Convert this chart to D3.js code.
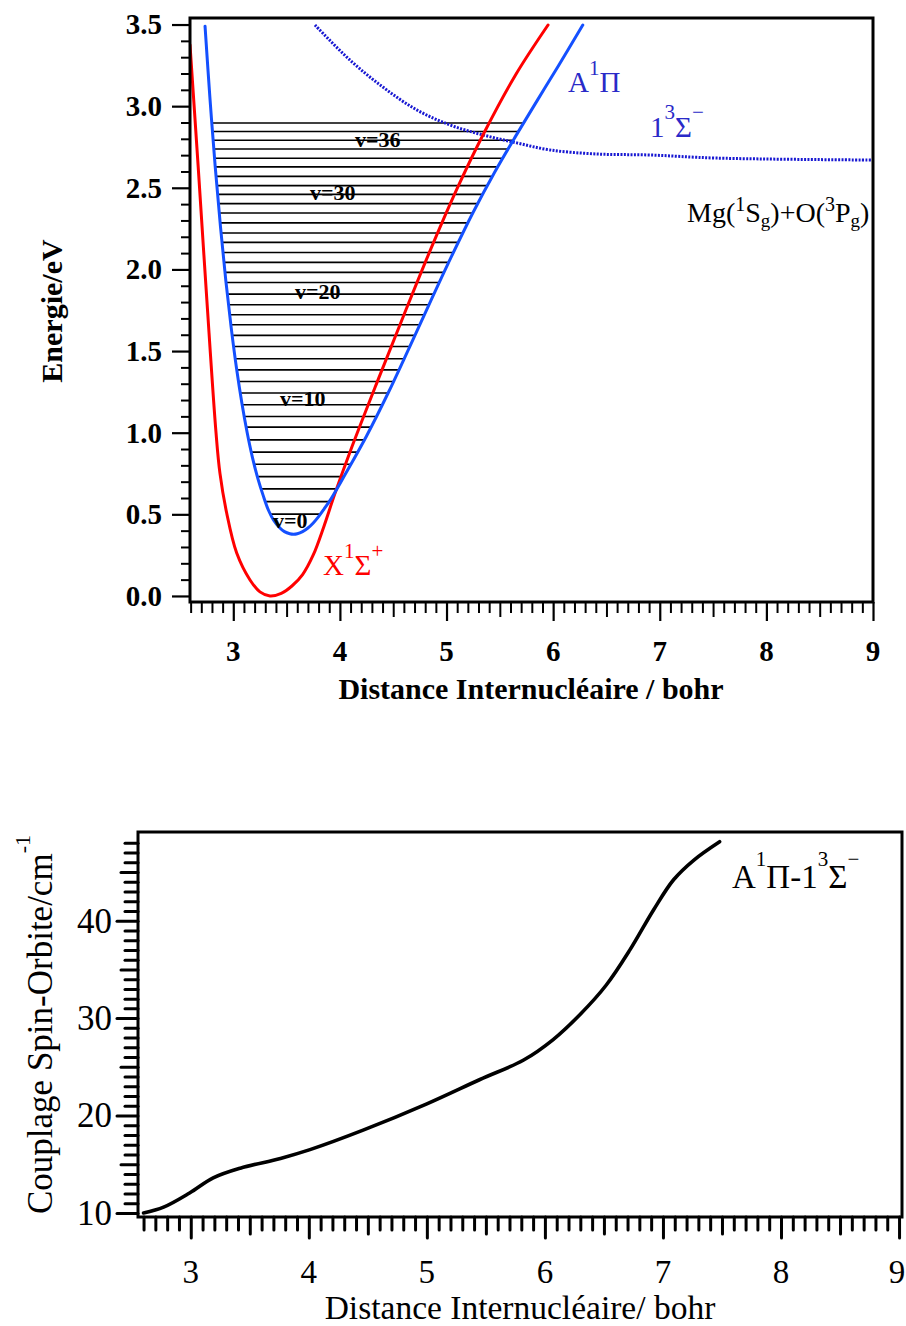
<!DOCTYPE html>
<html>
<head>
<meta charset="utf-8">
<script src="https://cdn.jsdelivr.net/npm/d3@7"></script>
<style>
  body { margin: 0; background: #fff; }
  svg { display: block; }
  text { font-family: "Liberation Serif", "Times New Roman", Times, serif; }
</style>
</head>
<body>
<svg id="chart" width="906" height="1326"></svg>
<script>
// ================= DATA =================
// X1Sigma+ potential (red): R in bohr, E in eV
const xStateR = [2.594, 2.671, 2.752, 2.838, 2.875, 2.938, 3.032, 3.157, 3.250, 3.344, 3.450, 3.550, 3.650, 3.750, 3.850, 3.950, 4.100, 4.350, 4.600, 4.850, 5.100, 5.350, 5.650, 5.952];
const xStateE = [3.375, 2.627, 1.813, 1.000, 0.751, 0.508, 0.263, 0.098, 0.025, 0.000, 0.016, 0.061, 0.131, 0.251, 0.426, 0.621, 0.891, 1.311, 1.721, 2.121, 2.496, 2.834, 3.194, 3.497];

// A1Pi potential (blue)
const aStateR = [2.735, 2.780, 2.830, 2.880, 2.930, 2.980, 3.030, 3.080, 3.130, 3.180, 3.230, 3.280, 3.330, 3.380, 3.430, 3.480, 3.530, 3.566,
                 3.600, 3.650, 3.700, 3.750, 3.800, 3.850, 3.920, 4.050, 4.250, 4.450, 4.650, 4.850, 5.050, 5.250, 5.450, 5.650, 5.850, 6.050, 6.278];
const aStateE = [3.490, 3.059, 2.633, 2.260, 1.931, 1.645, 1.396, 1.183, 1.001, 0.847, 0.720, 0.616, 0.525, 0.462, 0.421, 0.394, 0.381, 0.378,
                 0.381, 0.394, 0.416, 0.447, 0.486, 0.531, 0.598, 0.745, 0.980, 1.240, 1.520, 1.804, 2.084, 2.350, 2.594, 2.818, 3.034, 3.248, 3.497];

// 1 3Sigma- potential (blue dotted)
const sStateR = [3.766, 4.093, 4.403, 4.721, 5.031, 5.340, 5.659, 5.968, 6.409, 6.906, 7.534, 9.000];
const sStateE = [3.497, 3.283, 3.117, 2.977, 2.885, 2.824, 2.775, 2.732, 2.707, 2.701, 2.682, 2.670];

// vibrational levels of A1Pi (eV)
const levelE = [0.501, 0.578, 0.656, 0.731, 0.807, 0.881, 0.956, 1.034, 1.099, 1.171,
                1.243, 1.314, 1.385, 1.453, 1.528, 1.596, 1.661, 1.722, 1.784, 1.849,
                1.920, 1.982, 2.043, 2.104, 2.166, 2.223, 2.285, 2.346, 2.403, 2.460,
                2.513, 2.570, 2.628, 2.681, 2.738, 2.791, 2.845, 2.897];
const levelLabelText = ["v=0", "v=10", "v=20", "v=30", "v=36"];
const levelLabelR = [3.373, 3.438, 3.579, 3.720, 4.142];
const levelLabelE = [0.414, 1.163, 1.819, 2.425, 2.752];

const topXTicks = [3, 4, 5, 6, 7, 8, 9];
const topYTicks = [0.0, 0.5, 1.0, 1.5, 2.0, 2.5, 3.0, 3.5];

// spin-orbit coupling A1Pi - 1 3Sigma- (cm-1)
const socR = [2.60, 2.77, 2.99, 3.19, 3.42, 3.76, 4.01, 4.46, 5.00, 5.45, 5.82, 6.07, 6.30, 6.52, 6.72, 6.92, 7.09, 7.26, 7.48];
const socV = [10.0, 10.6, 12.05, 13.6, 14.6, 15.6, 16.5, 18.5, 21.2, 23.7, 25.7, 27.8, 30.4, 33.4, 37.0, 41.1, 44.2, 46.2, 48.1];

const botXTicks = [3, 4, 5, 6, 7, 8, 9];
const botYTicks = [10, 20, 30, 40];

// ================= DRAW =================
const svg = d3.select("#chart");
const smooth = d3.curveCatmullRom.alpha(0.5);

function rich(g, x, y, parts, size, o) {
  const t = g.append("text").attr("x", x).attr("y", y).attr("font-size", size);
  let cur = 0;
  parts.forEach(p => {
    const txt = Array.isArray(p) ? p[0] : p;
    const kind = Array.isArray(p) ? p[1] : null;
    let off = 0, fs = size;
    if (kind === "sup") { off = -o.supRaise; fs = o.supSize; }
    if (kind === "sub") { off = o.subDrop; fs = o.subSize; }
    t.append("tspan").attr("dy", off - cur).attr("font-size", fs).text(txt);
    cur = off;
  });
  return t;
}

function cross(Rs, Es, e, left) {
  const iMin = d3.minIndex(Es);
  if (left) {
    for (let i = iMin; i > 0; i--) {
      if (Es[i - 1] >= e && Es[i] <= e) {
        const t = (e - Es[i]) / (Es[i - 1] - Es[i]);
        return Rs[i] + t * (Rs[i - 1] - Rs[i]);
      }
    }
  } else {
    for (let i = iMin; i < Es.length - 1; i++) {
      if (Es[i] <= e && Es[i + 1] >= e) {
        const t = (e - Es[i]) / (Es[i + 1] - Es[i]);
        return Rs[i] + t * (Rs[i + 1] - Rs[i]);
      }
    }
  }
  return null;
}

function tickAxis(g, axis, width, cap) {
  g.call(axis);
  g.select(".domain").remove();
  g.selectAll(".tick line").attr("stroke", "#000").attr("stroke-width", width).attr("stroke-linecap", cap || "butt");
  g.selectAll(".tick text").remove();
}

// ---------- TOP CHART ----------
const xT = d3.scaleLinear().domain([2.594, 9.0]).range([190, 873]);
const yT = d3.scaleLinear().domain([-0.037, 3.54]).range([602, 18]);
const gTop = svg.append("g");

gTop.append("clipPath").attr("id", "clipTop").append("rect")
  .attr("x", xT.range()[0]).attr("y", yT.range()[1])
  .attr("width", xT.range()[1] - xT.range()[0]).attr("height", yT.range()[0] - yT.range()[1]);

// x ticks
const topMinorX = d3.range(26, 91).map(d => d / 10).filter(d => Math.abs(d * 2 - Math.round(d * 2)) > 1e-6);
const topMidX = d3.range(5, 18).map(d => d / 2).filter(d => d > 2.6 && d % 1 !== 0);
tickAxis(gTop.append("g").attr("transform", "translate(0,602)"),
  d3.axisBottom(xT).tickValues(topMinorX).tickSize(11).tickSizeOuter(0), 2);
tickAxis(gTop.append("g").attr("transform", "translate(0,602)"),
  d3.axisBottom(xT).tickValues(topMidX).tickSize(15).tickSizeOuter(0), 2);
tickAxis(gTop.append("g").attr("transform", "translate(0,602)"),
  d3.axisBottom(xT).tickValues(topXTicks).tickSize(19).tickSizeOuter(0), 2.2);
// y ticks
const topMinorY = d3.range(0, 36).map(d => d / 10).filter(d => Math.abs(d * 2 - Math.round(d * 2)) > 1e-6);
tickAxis(gTop.append("g").attr("transform", "translate(190,0)"),
  d3.axisLeft(yT).tickValues(topMinorY).tickSize(9).tickSizeOuter(0), 2);
tickAxis(gTop.append("g").attr("transform", "translate(190,0)"),
  d3.axisLeft(yT).tickValues(topYTicks).tickSize(18).tickSizeOuter(0), 2.2);

// tick labels
gTop.append("g").selectAll("text").data(topXTicks).join("text")
  .attr("x", d => xT(d)).attr("y", 661).attr("text-anchor", "middle")
  .attr("font-size", 29).attr("font-weight", "bold").text(d => d3.format("d")(d));
gTop.append("g").selectAll("text").data(topYTicks).join("text")
  .attr("x", 162).attr("y", d => yT(d)).attr("dy", "0.34em").attr("text-anchor", "end")
  .attr("font-size", 29).attr("font-weight", "bold").text(d => d3.format(".1f")(d));

// axis titles
gTop.append("text").attr("x", 531).attr("y", 699).attr("text-anchor", "middle")
  .attr("font-size", 30).attr("font-weight", "bold").text("Distance Internucléaire / bohr");
gTop.append("text").attr("transform", "translate(62,311) rotate(-90)").attr("text-anchor", "middle")
  .attr("font-size", 30).attr("font-weight", "bold").text("Energie/eV");

// plot contents
const plotT = gTop.append("g").attr("clip-path", "url(#clipTop)");

// vibrational levels
plotT.append("g").selectAll("line").data(levelE).join("line")
  .attr("x1", e => xT(cross(aStateR, aStateE, e, true)))
  .attr("x2", e => xT(cross(aStateR, aStateE, e, false)))
  .attr("y1", e => yT(e)).attr("y2", e => yT(e))
  .attr("stroke", "#000").attr("stroke-width", 1.6);

const lineT = (Rs, Es) => d3.line().x((d, i) => xT(Rs[i])).y((d, i) => yT(Es[i])).curve(smooth)(Rs);

plotT.append("path").attr("d", lineT(sStateR, sStateE)).attr("fill", "none")
  .attr("stroke", "#1818d2").attr("stroke-width", 3).attr("stroke-dasharray", "2,1.4");
plotT.append("path").attr("d", lineT(xStateR, xStateE)).attr("fill", "none")
  .attr("stroke", "#ff0000").attr("stroke-width", 3).attr("stroke-linecap", "round");
plotT.append("path").attr("d", lineT(aStateR, aStateE)).attr("fill", "none")
  .attr("stroke", "#1450ff").attr("stroke-width", 3).attr("stroke-linecap", "round");

// level labels
gTop.append("g").selectAll("text").data(levelLabelText).join("text")
  .attr("x", (d, i) => xT(levelLabelR[i])).attr("y", (d, i) => yT(levelLabelE[i]))
  .attr("font-size", 22).attr("font-weight", "bold").attr("fill", "#000").text(d => d);

// state annotations
const annBlue = "#2a2ac8";
rich(gTop, xT(6.14), yT(3.087), ["A", ["1", "sup"], "Π"], 29, { supRaise: 17, supSize: 21 }).attr("fill", annBlue);
rich(gTop, xT(6.909), yT(2.811), ["1", ["3", "sup"], "Σ", ["−", "sup"]], 29, { supRaise: 18, supSize: 21 }).attr("fill", annBlue);
rich(gTop, xT(3.842), yT(0.128), ["X", ["1", "sup"], "Σ", ["+", "sup"]], 29, { supRaise: 17, supSize: 21 }).attr("fill", "#ff0000");
rich(gTop, xT(7.256), yT(2.29), ["Mg(", ["1", "sup"], "S", ["g", "sub"], ")+O(", ["3", "sup"], "P", ["g", "sub"], ")"], 28,
  { supRaise: 11, supSize: 20, subDrop: 5, subSize: 19 }).attr("fill", "#000");

// frame
gTop.append("rect").attr("x", 190).attr("y", 18).attr("width", 683).attr("height", 584)
  .attr("fill", "none").attr("stroke", "#000").attr("stroke-width", 3);

// ---------- BOTTOM CHART ----------
const xB = d3.scaleLinear().domain([2.553, 9.025]).range([138, 902]);
const yB = d3.scaleLinear().domain([9.59, 49.1]).range([1217, 832]);
const gBot = svg.append("g");

const botMinorX = d3.range(26, 91).map(d => d / 10).filter(d => Math.abs(d * 2 - Math.round(d * 2)) > 1e-6);
const botMidX = d3.range(5, 18).map(d => d / 2).filter(d => d > 2.6 && d % 1 !== 0);
tickAxis(gBot.append("g").attr("transform", "translate(0,1217)"),
  d3.axisBottom(xB).tickValues(botMinorX).tickSize(13).tickSizeOuter(0), 3, "round");
tickAxis(gBot.append("g").attr("transform", "translate(0,1217)"),
  d3.axisBottom(xB).tickValues(botMidX).tickSize(17).tickSizeOuter(0), 3, "round");
tickAxis(gBot.append("g").attr("transform", "translate(0,1217)"),
  d3.axisBottom(xB).tickValues(botXTicks).tickSize(21).tickSizeOuter(0), 3, "round");

const botMinorY = d3.range(10, 49).filter(d => d % 5 !== 0);
const botMidY = [15, 25, 35, 45];
tickAxis(gBot.append("g").attr("transform", "translate(138,0)"),
  d3.axisLeft(yB).tickValues(botMinorY).tickSize(13).tickSizeOuter(0), 3, "round");
tickAxis(gBot.append("g").attr("transform", "translate(138,0)"),
  d3.axisLeft(yB).tickValues(botMidY).tickSize(17).tickSizeOuter(0), 3, "round");
tickAxis(gBot.append("g").attr("transform", "translate(138,0)"),
  d3.axisLeft(yB).tickValues(botYTicks).tickSize(21).tickSizeOuter(0), 3, "round");

gBot.append("g").selectAll("text").data(botXTicks).join("text")
  .attr("x", d => Math.min(xB(d), 897)).attr("y", 1283).attr("text-anchor", "middle")
  .attr("font-size", 33).text(d => d3.format("d")(d));
gBot.append("g").selectAll("text").data(botYTicks).join("text")
  .attr("x", 112).attr("y", d => yB(d)).attr("dy", "0.34em").attr("text-anchor", "end")
  .attr("font-size", 35).text(d => d3.format("d")(d));

gBot.append("text").attr("x", 520).attr("y", 1319.3).attr("text-anchor", "middle")
  .attr("font-size", 33.5).text("Distance Internucléaire/ bohr");
rich(gBot, 0, 0, ["Couplage Spin-Orbite/cm", ["-1", "sup"]], 35, { supRaise: 22, supSize: 22 })
  .attr("transform", "translate(52,1214) rotate(-90)");

gBot.append("path")
  .attr("d", d3.line().x((d, i) => xB(socR[i])).y((d, i) => yB(socV[i])).curve(smooth)(socR))
  .attr("fill", "none").attr("stroke", "#000").attr("stroke-width", 3.6).attr("stroke-linecap", "round");

rich(gBot, xB(7.585), yB(43.35), ["A", ["1", "sup"], "Π-1", ["3", "sup"], "Σ", ["−", "sup"]], 33,
  { supRaise: 22, supSize: 21 }).attr("fill", "#000");

gBot.append("rect").attr("x", 138).attr("y", 832).attr("width", 764).attr("height", 385)
  .attr("fill", "none").attr("stroke", "#000").attr("stroke-width", 3);
</script>
</body>
</html>
